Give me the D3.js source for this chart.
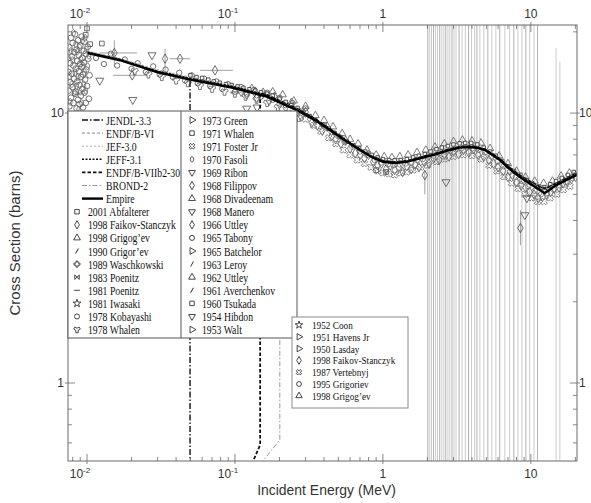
<!DOCTYPE html>
<html>
<head>
<meta charset="utf-8">
<script src="https://cdn.jsdelivr.net/npm/d3@7"></script>
<style>
  body { margin: 0; background: #fff; }
  svg { display: block; }
</style>
</head>
<body>
<div id="chart"></div>
<script>
// chart size
const W = 591, H = 503;
const margin = {top: 25, right: 14, bottom: 42, left: 68};

const xDomain = [0.00744, 20.5];
const yDomain = [0.514, 21.2];

// tick labels: [value, base, superscript]
const xTickLabels = [[0.01, "10", "-2"], [0.1, "10", "-1"], [1, "1", ""], [10, "10", ""]];
const yTickLabels = [[1, "1"], [10, "10"]];

// evaluated curves [E (MeV), sigma (b)]
const empire = [[0.0101,16.7],[0.0167,15.7],[0.0297,14.2],[0.0497,13.3],[0.097,12.4],[0.164,11.5],[0.262,10.26],[0.35,9.4],[0.438,8.65],[0.55,7.95],[0.70,7.3],[0.85,6.85],[1.0,6.6],[1.2,6.53],[1.45,6.6],[1.78,6.8],[2.3,7.05],[2.84,7.3],[3.3,7.45],[3.87,7.48],[4.4,7.42],[4.89,7.3],[5.5,7.0],[6.18,6.7],[7.2,6.2],[8.43,5.8],[10.0,5.45],[11.5,5.19],[12.4,5.05],[13.4,5.2],[14.5,5.37],[17.0,5.62],[20.5,5.9]];
const endfb6 = [[0.0101,16.9],[0.0167,15.9],[0.0297,14.4],[0.0497,13.5],[0.097,12.6],[0.164,11.7],[0.262,10.4],[0.35,9.5],[0.438,8.75],[0.55,8.0],[0.70,7.35],[0.85,6.9],[1.0,6.68],[1.2,6.6],[1.45,6.66],[1.78,6.85],[2.3,7.12],[2.84,7.38],[3.3,7.52],[3.87,7.55],[4.4,7.48],[4.89,7.36],[5.5,7.08],[6.18,6.78],[7.2,6.3],[8.43,5.9],[10.0,5.58],[11.5,5.35],[12.4,5.28],[13.4,5.35],[14.5,5.47],[17.0,5.7],[20.5,6.0]];
const jef30 = [[0.0101,17.0],[0.0167,15.95],[0.0297,14.5],[0.0497,13.6],[0.097,12.7],[0.164,11.75],[0.262,10.45],[0.35,9.55],[0.438,8.8],[0.55,8.05],[0.70,7.4],[0.85,6.95],[1.0,6.7],[1.2,6.62],[1.45,6.7],[1.78,6.9],[2.3,7.15],[2.84,7.4],[3.3,7.55],[3.87,7.6],[4.4,7.5],[4.89,7.38],[5.5,7.1],[6.18,6.8],[7.2,6.32],[8.43,5.92],[10.0,5.6],[11.5,5.38],[12.4,5.3],[13.4,5.38],[14.5,5.5],[17.0,5.74],[20.5,6.05]];
const jeff31 = [[0.0101,16.8],[0.0167,15.8],[0.0297,14.3],[0.0497,13.45],[0.097,12.55],[0.164,11.65],[0.262,10.38],[0.35,9.48],[0.438,8.72],[0.55,7.98],[0.70,7.33],[0.85,6.88],[1.0,6.64],[1.2,6.57],[1.45,6.63],[1.78,6.83],[2.3,7.1],[2.84,7.35],[3.3,7.5],[3.87,7.53],[4.4,7.46],[4.89,7.33],[5.5,7.05],[6.18,6.75],[7.2,6.27],[8.43,5.87],[10.0,5.55],[11.5,5.32],[12.4,5.25],[13.4,5.33],[14.5,5.45],[17.0,5.68],[20.5,5.98]];
const endfb7 = [[0.13,0.5],[0.148,0.59],[0.148,11.85],[0.164,11.68],[0.262,10.4],[0.35,9.5],[0.438,8.74],[0.55,8.0],[0.70,7.34],[0.85,6.9],[1.0,6.66],[1.2,6.58],[1.45,6.65],[1.78,6.85],[2.3,7.1],[2.84,7.36],[3.3,7.5],[3.87,7.54],[4.4,7.47],[4.89,7.34],[5.5,7.06],[6.18,6.76],[7.2,6.28],[8.43,5.88],[10.0,5.56],[11.5,5.33],[12.4,5.26],[13.4,5.34],[14.5,5.46],[17.0,5.7],[20.5,6.0]];
const brond2 = [[0.148,0.5],[0.201,0.615],[0.201,11.1],[0.262,10.35],[0.35,9.45],[0.438,8.7],[0.55,7.97],[0.70,7.32],[0.85,6.88],[1.0,6.63],[1.2,6.56],[1.45,6.63],[1.78,6.83],[2.3,7.08],[2.84,7.33],[3.3,7.48],[3.87,7.5],[4.4,7.44],[4.89,7.32],[5.5,7.03],[6.18,6.73],[7.2,6.25],[8.43,5.85],[10.0,5.52],[11.5,5.28],[12.4,5.2],[13.4,5.3],[14.5,5.42],[17.0,5.66],[20.5,5.96]];
const jendl33 = [[0.0497,0.3],[0.0497,13.4],[0.097,12.5],[0.164,11.6],[0.262,10.32],[0.35,9.44],[0.438,8.68],[0.55,7.96],[0.70,7.31],[0.85,6.87],[1.0,6.62],[1.2,6.55],[1.45,6.62],[1.78,6.82],[2.3,7.07],[2.84,7.32],[3.3,7.47],[3.87,7.5],[4.4,7.44],[4.89,7.31],[5.5,7.02],[6.18,6.72],[7.2,6.24],[8.43,5.84],[10.0,5.5],[11.5,5.27],[12.4,5.18],[13.4,5.28],[14.5,5.4],[17.0,5.64],[20.5,5.94]];

// experimental data [E, sigma]
const lowCluster = [[0.0075,14.2],[0.0075,12.1],[0.0076,17.5],[0.0076,10.6],[0.0077,15.3],[0.0077,13.0],[0.0078,19.0],[0.0078,11.4],[0.0079,16.2],[0.0079,14.0],[0.008,12.5],[0.008,18.2],[0.0081,10.9],[0.0081,15.0],[0.0082,16.8],[0.0082,13.4],[0.0083,11.8],[0.0083,19.6],[0.0084,14.6],[0.0084,12.0],[0.0085,17.2],[0.0085,10.4],[0.0086,15.6],[0.0086,13.1],[0.0087,18.6],[0.0087,11.2],[0.0088,14.3],[0.0088,16.4],[0.0089,12.7],[0.0089,10.8],[0.009,17.8],[0.009,15.2],[0.0091,13.6],[0.0091,11.6],[0.0092,19.2],[0.0092,14.8],[0.0093,12.3],[0.0093,16.0],[0.0094,10.5],[0.0094,13.9],[0.0095,17.0],[0.0095,15.4],[0.0096,11.9],[0.0096,18.4],[0.0097,13.3],[0.0098,16.6],[0.0098,10.9],[0.0099,14.5],[0.01,12.6],[0.0101,17.6],[0.0102,15.9],[0.0103,11.3],[0.0104,13.8]];
const fasoli = [[0.0075,16.0],[0.0076,13.7],[0.0077,11.0],[0.0078,17.0],[0.0079,12.8],[0.008,15.7],[0.0081,19.8],[0.0082,11.9],[0.0083,14.1],[0.0084,18.0],[0.0085,12.6],[0.0086,16.9],[0.0087,13.6],[0.0088,10.3],[0.0089,17.5],[0.009,12.0],[0.0091,15.8],[0.0092,10.9],[0.0093,18.5],[0.0094,15.0],[0.0095,12.8],[0.0096,14.2],[0.0097,19.0],[0.0098,12.1],[0.0099,17.2],[0.0101,14.9],[0.0103,16.3]];
const abfalterer = [[0.05,13.8],[0.055,13.6],[0.06,13.5],[0.066,13.3],[0.072,13.1],[0.079,12.95],[0.087,12.8],[0.095,12.7],[0.104,12.55],[0.114,12.4],[0.125,12.25],[0.137,12.1],[0.15,11.95],[0.165,11.8],[0.18,11.6],[0.2,11.3],[0.22,11.0],[0.24,10.7],[0.265,10.45],[0.29,10.1],[0.32,9.75],[0.35,9.4],[0.39,9.05],[0.43,8.75],[0.47,8.45],[0.52,8.15],[0.57,7.85],[0.63,7.6],[0.69,7.4],[0.76,7.2],[0.84,7.0],[0.92,6.85],[1.0,6.75],[1.1,6.7],[1.2,6.68],[1.32,6.7],[1.45,6.75],[1.6,6.85],[1.75,6.95],[1.92,7.05],[2.1,7.2],[2.3,7.35],[2.5,7.45],[2.75,7.55],[3.0,7.65],[3.3,7.72],[3.6,7.75],[3.95,7.75],[4.35,7.65],[4.8,7.45],[5.3,7.2],[5.8,6.95],[6.4,6.65],[7.0,6.35],[7.7,6.1],[8.5,5.9],[9.3,5.65],[10.2,5.5],[11.2,5.35],[12.3,5.3],[13.5,5.45],[14.8,5.6],[16.2,5.75],[17.8,5.9],[19.5,6.05]];
const faikov = [[0.11,12.0],[0.12,11.7],[0.13,12.3],[0.14,11.4],[0.155,11.9],[0.17,11.1],[0.185,11.5],[0.2,10.8],[0.22,10.5],[0.24,10.9],[0.26,10.0],[0.28,9.7],[0.3,10.1],[0.33,9.2],[0.36,9.0],[0.39,8.6],[0.42,8.9],[0.45,8.2],[0.48,8.0],[0.52,7.7],[0.56,7.9],[0.6,7.4],[0.65,7.1],[0.7,7.0],[0.75,6.8],[0.8,7.0],[0.86,6.6],[0.92,6.4],[0.98,6.5],[1.05,6.2],[1.12,6.4],[1.2,6.15],[1.28,6.3],[1.36,6.05],[1.45,6.35],[1.55,6.2],[1.65,6.45],[1.75,6.3],[1.9,6.6],[2.05,6.5],[2.2,6.8],[2.4,6.7],[2.6,7.0],[2.8,6.9],[3.0,7.2],[3.25,7.05],[3.5,7.3],[3.8,7.15],[4.1,7.35],[4.4,7.0],[4.8,6.9],[5.2,6.7],[5.6,6.5],[6.0,6.3],[6.5,6.1],[7.0,5.8],[7.5,5.9],[8.0,5.55],[8.6,5.4],[9.2,5.3],[9.8,5.1],[10.5,5.0],[11.2,4.85],[12.0,4.9],[12.8,5.0],[13.6,5.1],[14.4,5.25],[15.5,5.3],[16.5,5.5],[17.6,5.55],[18.8,5.7],[20,5.8]];
const grigogev = [[0.18,12.0],[0.21,11.7],[0.25,11.1],[0.3,10.6],[0.35,9.8],[0.4,9.4],[0.46,8.9],[0.53,8.4],[0.6,8.0],[0.68,7.7],[0.78,7.3],[0.9,7.0],[1.02,6.9],[1.15,6.85],[1.3,6.9],[1.48,7.0],[1.7,7.15],[1.95,7.3],[2.25,7.5],[2.6,7.7],[3.0,7.85],[3.45,7.95],[4.0,7.9],[4.6,7.75],[5.3,7.4],[6.1,6.95],[7.0,6.5],[8.0,6.1],[9.2,5.8],[10.6,5.6],[12.2,5.5],[14.0,5.6],[16.0,5.85],[18.2,6.0]];
const vertebnyj = [[0.3,9.5],[0.34,9.0],[0.38,8.55],[0.43,8.1],[0.48,7.7],[0.54,7.3],[0.6,7.0],[0.67,6.7],[0.75,6.5],[0.83,6.3],[0.92,6.1],[1.0,6.0],[1.1,5.95],[1.2,5.9],[1.32,6.0],[1.45,6.05],[1.6,6.15],[1.8,6.3],[2.0,6.4],[2.3,6.6],[2.6,6.75],[3.0,6.9],[3.5,7.0],[4.0,6.95],[4.6,6.75],[5.2,6.4],[5.9,6.1],[6.6,5.8],[7.4,5.5],[8.2,5.25],[9.1,5.0],[10.1,4.85],[11.1,4.7],[12.3,4.7],[13.5,4.85],[15,5.0],[16.6,5.2],[18.4,5.35]];
const kobayashi = [[0.4,9.0],[0.45,8.5],[0.5,8.2],[0.55,7.8],[0.62,7.5],[0.7,7.2],[0.78,7.0],[0.88,6.7],[0.97,6.55],[1.08,6.45],[1.18,6.4],[1.3,6.45],[1.42,6.5],[1.56,6.55],[1.7,6.7],[1.86,6.75],[2.02,6.9],[2.2,6.95],[2.4,7.1],[2.62,7.2],[2.85,7.25],[3.1,7.35],[3.4,7.4],[3.7,7.45],[4.05,7.4],[4.45,7.3],[4.9,7.15],[5.4,6.9],[5.95,6.6],[6.55,6.35],[7.2,6.05],[7.9,5.8],[8.7,5.6],[9.6,5.35],[10.6,5.15],[11.7,5.0],[12.9,5.05],[14.2,5.2],[15.6,5.4],[17.2,5.55],[19,5.75]];
const grigorev = [[0.0115,16.0],[0.013,15.2],[0.0145,16.6],[0.016,15.0],[0.018,15.8],[0.02,14.6],[0.022,15.3],[0.025,14.2],[0.028,14.9],[0.031,13.9],[0.034,14.5],[0.038,13.6],[0.042,14.1],[0.046,13.2],[0.051,13.8],[0.056,12.9],[0.062,13.4],[0.068,12.6],[0.075,13.1],[0.082,12.3],[0.09,12.8],[0.1,12.0],[0.11,12.5],[0.12,11.8],[0.135,12.2],[0.15,11.5],[0.165,11.9],[0.18,11.2],[0.2,11.4],[0.22,10.7],[0.245,10.9],[0.27,10.2],[0.3,10.4]];
const whalen = [[0.021,14.3],[0.026,13.9],[0.032,13.6],[0.04,13.2],[0.048,12.9],[0.058,12.6],[0.07,12.3],[0.085,12.0],[0.1,11.8],[0.118,11.5],[0.14,11.2],[0.165,10.9],[0.195,10.5],[0.23,10.0],[0.27,9.6]];
const ribon = [[0.0122,13.2],[0.0204,11.2],[0.0275,16.4],[0.12,10.4],[0.141,10.5],[2.67,5.55],[9.4,4.84],[9.1,4.19]];
const uttley = [[0.0126,18.1],[0.0098,19.5],[0.0105,18.0],[0.01,20.6],[0.9,6.15],[1.05,6.05]];
// points with error bars [E, sigma, Elo, Ehi, sLo, sHi]
const errPoints = [[0.0153,16.7,0.0122,0.0218,14.8,18.6],[0.0337,15.9,0.0337,0.0337,13.8,17.3],[0.0425,15.9,0.0364,0.0497,15.9,15.9],[0.0202,13.8,0.015,0.0254,13.8,13.8],[0.0733,14.4,0.058,0.0969,14.4,14.4],[0.136,11.95,0.092,0.172,11.95,11.95],[1.92,5.89,1.92,1.92,5.0,6.15],[8.5,3.75,8.5,8.5,3.24,4.37]];
// off-scale error bars of the 2-15 MeV data [E, sLo, sHi]
const wideErr = [[2.01,0.3,40],[2.07,0.3,40],[2.13,0.3,40],[2.2,0.3,40],[2.27,0.3,40],[2.34,0.3,40],[2.42,0.3,40],[2.5,0.3,40],[2.58,0.3,40],[2.66,0.3,40],[2.75,0.3,40],[2.83,0.3,40],[2.93,0.3,40],[3.02,0.3,40],[3.12,0.3,40],[3.27,0.3,40],[3.43,0.3,40],[3.61,0.3,40],[3.79,0.3,40],[3.97,0.3,40],[4.17,0.3,40],[4.32,0.3,40],[4.52,0.3,40],[4.81,0.3,40],[5.12,0.3,40],[5.45,0.3,40],[5.8,0.3,40],[6.16,0.3,40],[6.67,0.3,40],[7.19,0.3,40],[7.67,0.3,40],[8.17,0.3,40],[8.7,0.3,40],[9.25,0.3,40],[9.81,0.3,40],[10.5,0.3,40],[11.1,0.3,40],[14.8,0.3,17.4],[15.7,0.3,15.5]];

// legends
const evalNames = ["JENDL-3.3", "ENDF/B-VI", "JEF-3.0", "JEFF-3.1", "ENDF/B-VIIb2-30", "BROND-2", "Empire"];
const legendLeftExp = ["2001 Abfalterer", "1998 Faikov-Stanczyk", "1998 Grigog’ev", "1990 Grigor’ev", "1989 Waschkowski", "1983 Poenitz", "1981 Poenitz", "1981 Iwasaki", "1978 Kobayashi", "1978 Whalen"];
const legendLeftGlyphs = ["square", "diamond", "tri", "slash", "cross", "bowtie", "dash", "star", "circle", "wye"];
const legendRight = ["1973 Green", "1971 Whalen", "1971 Foster Jr", "1970 Fasoli", "1969 Ribon", "1968 Filippov", "1968 Divadeenam", "1968 Manero", "1966 Uttley", "1965 Tabony", "1965 Batchelor", "1963 Leroy", "1962 Uttley", "1961 Averchenkov", "1960 Tsukada", "1954 Hibdon", "1953 Walt"];
const legendRightGlyphs = ["triRight", "square", "times", "oval", "triDown", "diamond", "tri", "triDown", "diamond", "circle", "triRight", "slash", "tri", "slash", "square", "triDown", "triRight"];
const legendSmall = ["1952 Coon", "1951 Havens Jr", "1950 Lasday", "1998 Faikov-Stanczyk", "1987 Vertebnyj", "1995 Grigoriev", "1998 Grigog’ev"];
const legendSmallGlyphs = ["star", "triRight", "triRight", "diamond", "times", "circle", "tri"];

// styles for the evaluated curves
const evalStyle = {
  "JENDL-3.3": {color: "#111", width: 1.4, dash: "6,2,1.5,2"},
  "ENDF/B-VI": {color: "#888", width: 1, dash: "3,2"},
  "JEF-3.0": {color: "#aaa", width: 1, dash: "2,2"},
  "JEFF-3.1": {color: "#111", width: 1.6, dash: "2,1.5"},
  "ENDF/B-VIIb2-30": {color: "#111", width: 1.8, dash: "3.5,2"},
  "BROND-2": {color: "#999", width: 1, dash: "5,2,1.5,2"},
  "Empire": {color: "#000", width: 2.4, dash: null}
};
const evalData = {"JENDL-3.3": jendl33, "ENDF/B-VI": endfb6, "JEF-3.0": jef30, "JEFF-3.1": jeff31, "ENDF/B-VIIb2-30": endfb7, "BROND-2": brond2, "Empire": empire};

// custom glyph shapes
const dashShape = {draw(ctx, size) { const r = Math.sqrt(size) / 2 * 1.3; ctx.moveTo(-r, 0); ctx.lineTo(r, 0); }};
const bowtieShape = {draw(ctx, size) { const r = Math.sqrt(size) / 2; ctx.moveTo(-r, -r); ctx.lineTo(r, r); ctx.lineTo(r, -r); ctx.lineTo(-r, r); ctx.closePath(); }};
const ovalShape = {draw(ctx, size) {
  const r = Math.sqrt(size) / 2, a = r * 0.7, b = r * 1.2, k = 0.5523;
  ctx.moveTo(0, -b);
  ctx.bezierCurveTo(a * k, -b, a, -b * k, a, 0);
  ctx.bezierCurveTo(a, b * k, a * k, b, 0, b);
  ctx.bezierCurveTo(-a * k, b, -a, b * k, -a, 0);
  ctx.bezierCurveTo(-a, -b * k, -a * k, -b, 0, -b);
  ctx.closePath();
}};
const glyphs = {
  square: [d3.symbolSquare, 0], diamond: [d3.symbolDiamond, 0], tri: [d3.symbolTriangle, 0],
  triDown: [d3.symbolTriangle, 180], triRight: [d3.symbolTriangle, 90], circle: [d3.symbolCircle, 0],
  star: [d3.symbolStar, 0], wye: [d3.symbolWye, 0], cross: [d3.symbolCross, 0],
  times: [d3.symbolCross, 45], dash: [dashShape, 0], bowtie: [bowtieShape, 0], slash: [dashShape, -60],
  oval: [ovalShape, 0]
};
function glyphPath(key, size) { return d3.symbol().type(glyphs[key][0]).size(size)(); }

const svg = d3.select("#chart").append("svg")
    .attr("width", W)
    .attr("height", H);

const x = d3.scaleLog().domain(xDomain).range([margin.left, W - margin.right]);
const y = d3.scaleLog().domain(yDomain).range([H - margin.bottom, margin.top]);
const x0 = margin.left, x1 = W - margin.right, y0 = H - margin.bottom, y1 = margin.top;

svg.append("clipPath").attr("id", "plotClip")
  .append("rect").attr("x", x0).attr("y", y1).attr("width", x1 - x0).attr("height", y0 - y1);

const plot = svg.append("g").attr("clip-path", "url(#plotClip)");

// off-scale error bars
plot.append("g").selectAll("line").data(wideErr).join("line")
    .attr("x1", d => x(d[0])).attr("x2", d => x(d[0]))
    .attr("y1", d => y(d[1])).attr("y2", d => y(d[2]))
    .attr("stroke", (d, i) => i % 3 === 0 ? "#a8a8a8" : "#c6c6c6")
    .attr("stroke-width", 0.9);

// error bars of single points
const eb = plot.append("g").attr("stroke", "#888").attr("stroke-width", 0.8);
eb.selectAll("line.h").data(errPoints).join("line").attr("class", "h")
    .attr("x1", d => x(d[2])).attr("x2", d => x(d[3]))
    .attr("y1", d => y(d[1])).attr("y2", d => y(d[1]));
eb.selectAll("line.v").data(errPoints).join("line").attr("class", "v")
    .attr("x1", d => x(d[0])).attr("x2", d => x(d[0]))
    .attr("y1", d => y(d[4])).attr("y2", d => y(d[5]));

// scatter of measured points
const dataSets = [
  {pts: lowCluster, glyph: "circle", stroke: "#5c5c5c", size: 26},
  {pts: fasoli, glyph: "oval", stroke: "#6a6a6a", size: 30},
  {pts: whalen, glyph: "wye", stroke: "#666", size: 26},
  {pts: grigorev, glyph: "circle", stroke: "#555", size: 22},
  {pts: vertebnyj, glyph: "times", stroke: "#777", size: 26},
  {pts: kobayashi, glyph: "circle", stroke: "#777", size: 22},
  {pts: faikov, glyph: "diamond", stroke: "#666", size: 26},
  {pts: grigogev, glyph: "tri", stroke: "#666", size: 24},
  {pts: ribon, glyph: "triDown", stroke: "#555", size: 28},
  {pts: uttley, glyph: "square", stroke: "#555", size: 22},
  {pts: errPoints, glyph: "diamond", stroke: "#555", size: 26},
  {pts: abfalterer, glyph: "square", stroke: "#333", size: 12, fill: "#fff"}
];
dataSets.forEach(ds => {
  plot.append("g").selectAll("path").data(ds.pts).join("path")
      .attr("d", glyphPath(ds.glyph, ds.size))
      .attr("transform", d => `translate(${x(d[0])},${y(d[1])}) rotate(${glyphs[ds.glyph][1]})`)
      .attr("fill", ds.fill || "none")
      .attr("stroke", ds.stroke)
      .attr("stroke-width", 0.85);
});

// evaluated curves
const line = d3.line().x(d => x(d[0])).y(d => y(d[1]));
evalNames.forEach(name => {
  const st = evalStyle[name];
  plot.append("path").datum(evalData[name])
      .attr("d", line)
      .attr("fill", "none")
      .attr("stroke", st.color)
      .attr("stroke-width", st.width)
      .attr("stroke-dasharray", st.dash);
});

// frame and ticks
const axisColor = "#6a6a6a";
svg.append("rect").attr("x", x0).attr("y", y1).attr("width", x1 - x0).attr("height", y0 - y1)
    .attr("fill", "none").attr("stroke", axisColor).attr("stroke-width", 1);

const isMajor = v => Math.abs(Math.log10(v) - Math.round(Math.log10(v))) < 1e-6;
const ticks = svg.append("g").attr("stroke", axisColor).attr("stroke-width", 0.8);
x.ticks().forEach(v => {
  const len = isMajor(v) ? 7 : 4, out = isMajor(v) ? 3 : 0;
  ticks.append("line").attr("x1", x(v)).attr("x2", x(v)).attr("y1", y0 + out).attr("y2", y0 - len);
  ticks.append("line").attr("x1", x(v)).attr("x2", x(v)).attr("y1", y1 - out).attr("y2", y1 + len);
});
y.ticks().forEach(v => {
  const len = isMajor(v) ? 7 : 4, out = isMajor(v) ? 3 : 0;
  ticks.append("line").attr("y1", y(v)).attr("y2", y(v)).attr("x1", x0 - out).attr("x2", x0 + len);
  ticks.append("line").attr("y1", y(v)).attr("y2", y(v)).attr("x1", x1 + out).attr("x2", x1 - len);
});

const labelFont = "'Liberation Sans', Arial, sans-serif";
function xLabel(v, base, sup, yy) {
  const t = svg.append("text")
      .attr("x", x(v) - (sup ? 7 : 0)).attr("y", yy)
      .attr("text-anchor", "middle")
      .attr("font-family", labelFont).attr("font-size", 12).attr("fill", "#333");
  t.append("tspan").text(base);
  if (sup) t.append("tspan").attr("dy", -5).attr("font-size", 8).text(sup);
}
xTickLabels.forEach(d => { xLabel(d[0], d[1], d[2], y0 + 17); xLabel(d[0], d[1], d[2], y1 - 7); });
yTickLabels.forEach(d => {
  svg.append("text").attr("x", x0 - 4).attr("y", y(d[0]) + 4).attr("text-anchor", "end")
      .attr("font-family", labelFont).attr("font-size", 12).attr("fill", "#333").text(d[1]);
  svg.append("text").attr("x", x1 + 2).attr("y", y(d[0]) + 4).attr("text-anchor", "start")
      .attr("font-family", labelFont).attr("font-size", 12).attr("fill", "#333").text(d[1]);
});

// axis titles
svg.append("text")
    .attr("transform", `translate(${(x0 + x1) / 2 + 4},${H - 8}) scale(0.93,1)`)
    .attr("text-anchor", "middle")
    .attr("font-family", labelFont).attr("font-size", 15).attr("fill", "#333")
    .text("Incident Energy (MeV)");
svg.append("text")
    .attr("transform", `translate(20,${(y0 + y1) / 2}) rotate(-90)`)
    .attr("text-anchor", "middle")
    .attr("font-family", labelFont).attr("font-size", 15).attr("fill", "#333")
    .text("Cross Section (barns)");

// legend 1
const serif = "'Liberation Serif', 'Times New Roman', serif";
const lg = {left: 68, top: 111, right: 297, bottom: 338, split: 181, row0: 120, step: 13.1};
const leg = svg.append("g");
leg.append("rect").attr("x", lg.left).attr("y", lg.top)
    .attr("width", lg.right - lg.left).attr("height", lg.bottom - lg.top).attr("fill", "#fff");

function legText(g, tx, ty, str, size, sx) {
  g.append("text").attr("transform", `translate(${tx},${ty}) scale(${sx},1)`)
      .attr("font-family", serif).attr("font-size", size).attr("fill", "#111").text(str);
}
evalNames.forEach((name, i) => {
  const st = evalStyle[name], ry = lg.row0 + i * lg.step;
  leg.append("line").attr("x1", 82).attr("x2", 103).attr("y1", ry).attr("y2", ry)
      .attr("stroke", st.color).attr("stroke-width", st.width).attr("stroke-dasharray", st.dash);
  legText(leg, 106, ry + 4.5, name, 12.5, 0.78);
});
legendLeftExp.forEach((name, i) => {
  const ry = lg.row0 + (i + evalNames.length) * lg.step;
  const key = legendLeftGlyphs[i];
  leg.append("path").attr("d", glyphPath(key, 20))
      .attr("transform", `translate(77,${ry}) rotate(${glyphs[key][1]})`)
      .attr("fill", "none").attr("stroke", "#333").attr("stroke-width", 0.9);
  legText(leg, 88, ry + 4.5, name, 12.5, 0.78);
});
// right column hides any overflow of the left one
leg.append("rect").attr("x", lg.split).attr("y", lg.top)
    .attr("width", lg.right - lg.split).attr("height", lg.bottom - lg.top).attr("fill", "#fff");
legendRight.forEach((name, i) => {
  const ry = lg.row0 + i * lg.step;
  const key = legendRightGlyphs[i];
  leg.append("path").attr("d", glyphPath(key, 20))
      .attr("transform", `translate(192,${ry}) rotate(${glyphs[key][1]})`)
      .attr("fill", "none").attr("stroke", "#333").attr("stroke-width", 0.9);
  legText(leg, 202, ry + 4.5, name, 12.5, 0.78);
});
leg.append("line").attr("x1", lg.split).attr("x2", lg.split).attr("y1", lg.top).attr("y2", lg.bottom)
    .attr("stroke", "#555").attr("stroke-width", 1);
leg.append("rect").attr("x", lg.left).attr("y", lg.top)
    .attr("width", lg.right - lg.left).attr("height", lg.bottom - lg.top)
    .attr("fill", "none").attr("stroke", "#555").attr("stroke-width", 1);

// legend 2
const l2 = {left: 292, top: 317, right: 408, bottom: 408, row0: 325, step: 11.8};
const leg2 = svg.append("g");
leg2.append("rect").attr("x", l2.left).attr("y", l2.top)
    .attr("width", l2.right - l2.left).attr("height", l2.bottom - l2.top)
    .attr("fill", "#fff").attr("stroke", "#8a8a8a").attr("stroke-width", 1);
legendSmall.forEach((name, i) => {
  const ry = l2.row0 + i * l2.step;
  const key = legendSmallGlyphs[i];
  leg2.append("path").attr("d", glyphPath(key, 18))
      .attr("transform", `translate(299,${ry}) rotate(${glyphs[key][1]})`)
      .attr("fill", "none").attr("stroke", "#333").attr("stroke-width", 0.9);
  legText(leg2, 312, ry + 4, name, 11, 0.84);
});
</script>
</body>
</html>
